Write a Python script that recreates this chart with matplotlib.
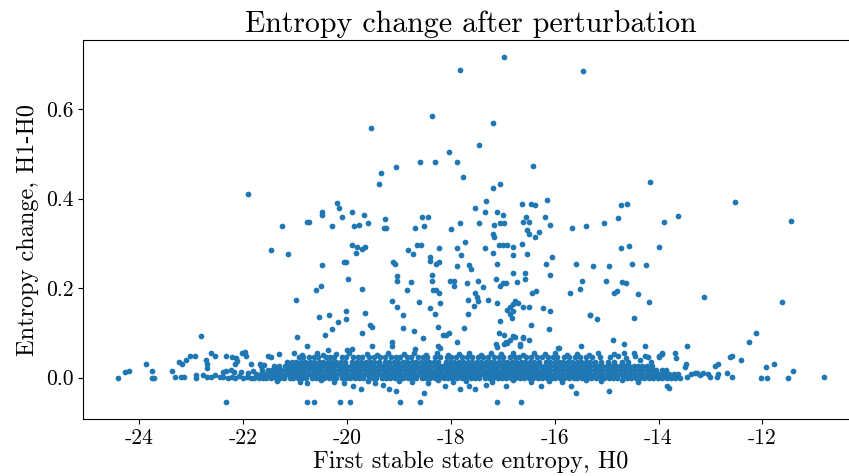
import matplotlib
matplotlib.use("Agg")
from matplotlib import pyplot as plt

# Computer Modern look, with plain hyphen for negative ticks
plt.rcParams["font.family"] = "cmr10"
plt.rcParams["axes.unicode_minus"] = False
plt.rcParams["mathtext.fontset"] = "cm"

# scattered points away from the dense band (H0, H1-H0)
outliers = [
    (-21.91, 0.410), (-21.25, 0.339), (-20.77, 0.348), (-20.72, 0.348), (-20.47, 0.370),
    (-20.47, 0.364), (-20.29, 0.339), (-20.19, 0.390), (-20.15, 0.380), (-20.10, 0.358),
    (-16.97, 0.716), (-17.82, 0.688), (-15.45, 0.685), (-18.36, 0.585), (-17.19, 0.569),
    (-19.54, 0.557), (-17.45, 0.520), (-18.04, 0.504), (-18.60, 0.482), (-18.30, 0.482),
    (-17.88, 0.482), (-19.05, 0.470), (-16.41, 0.473), (-17.77, 0.448), (-19.35, 0.457),
    (-19.38, 0.432), (-17.19, 0.423), (-17.05, 0.432), (-17.32, 0.394), (-17.53, 0.378),
    (-17.35, 0.370), (-17.10, 0.370), (-17.00, 0.364), (-16.62, 0.388), (-16.46, 0.388),
    (-16.38, 0.385), (-16.14, 0.398), (-16.19, 0.358), (-16.09, 0.342), (-16.56, 0.358),
    (-16.60, 0.348), (-16.49, 0.348), (-19.91, 0.370), (-19.67, 0.364), (-19.86, 0.339),
    (-19.77, 0.342), (-19.59, 0.345), (-19.27, 0.354), (-19.29, 0.335), (-19.24, 0.335),
    (-18.55, 0.358), (-18.44, 0.358), (-18.52, 0.339), (-17.82, 0.345), (-17.45, 0.345),
    (-17.16, 0.342), (-17.05, 0.345), (-16.97, 0.345), (-15.66, 0.335), (-15.40, 0.339),
    (-18.68, 0.335), (-18.00, 0.333),
    (-14.16, 0.438), (-12.53, 0.392), (-14.73, 0.385), (-14.61, 0.388), (-14.78, 0.357),
    (-13.63, 0.361), (-13.89, 0.348), (-15.05, 0.345), (-11.44, 0.351),
    (-21.47, 0.286), (-21.14, 0.276), (-20.47, 0.252), (-20.60, 0.196), (-20.50, 0.204),
    (-20.98, 0.174), (-20.53, 0.136), (-20.34, 0.139), (-20.17, 0.124), (-20.29, 0.108),
    (-20.42, 0.096), (-20.96, 0.090), (-20.77, 0.071), (-22.80, 0.0925),
    (-19.91, 0.296), (-19.81, 0.293), (-19.70, 0.288), (-19.66, 0.293), (-19.83, 0.279),
    (-20.05, 0.258), (-20.02, 0.258), (-19.97, 0.220), (-19.70, 0.199), (-20.02, 0.149),
    (-20.02, 0.130), (-19.65, 0.145), (-19.56, 0.117), (-19.51, 0.114), (-19.70, 0.099),
    (-19.51, 0.070), (-19.13, 0.171), (-19.03, 0.158), (-19.11, 0.258), (-19.08, 0.255),
    (-19.03, 0.227), (-19.03, 0.217), (-18.82, 0.285), (-18.73, 0.276), (-18.76, 0.214),
    (-18.84, 0.196), (-18.92, 0.139), (-18.92, 0.111), (-18.71, 0.105), (-18.62, 0.170),
    (-18.65, 0.296), (-18.57, 0.296), (-18.39, 0.270), (-18.39, 0.261), (-18.28, 0.255),
    (-18.23, 0.258), (-18.23, 0.289), (-18.36, 0.230), (-18.36, 0.217), (-18.34, 0.196),
    (-18.28, 0.196), (-18.23, 0.189), (-18.20, 0.167), (-18.39, 0.155), (-18.30, 0.143),
    (-18.25, 0.114), (-18.09, 0.096), (-18.04, 0.099), (-18.25, 0.070), (-18.20, 0.067),
    (-18.01, 0.217), (-17.93, 0.217), (-17.93, 0.204), (-17.88, 0.249), (-17.88, 0.289),
    (-17.80, 0.273), (-17.72, 0.302), (-17.69, 0.211), (-17.64, 0.251), (-17.61, 0.243),
    (-17.67, 0.173), (-17.55, 0.161), (-17.53, 0.189), (-17.50, 0.180), (-17.47, 0.171),
    (-17.47, 0.217), (-17.37, 0.202), (-17.88, 0.080), (-17.75, 0.111), (-17.66, 0.143),
    (-17.29, 0.173), (-17.35, 0.289), (-17.19, 0.320), (-17.16, 0.314), (-17.19, 0.279),
    (-17.11, 0.255), (-17.13, 0.220), (-17.05, 0.204), (-17.00, 0.211), (-16.94, 0.211),
    (-17.11, 0.167), (-17.05, 0.127), (-17.08, 0.296), (-17.00, 0.296), (-16.91, 0.296),
    (-16.81, 0.292), (-16.81, 0.273), (-16.81, 0.233), (-16.72, 0.214), (-16.57, 0.233),
    (-16.57, 0.220), (-16.62, 0.298), (-16.54, 0.276), (-16.54, 0.329), (-16.49, 0.320),
    (-16.38, 0.314), (-16.30, 0.326), (-16.92, 0.152), (-16.86, 0.158), (-16.81, 0.164),
    (-16.76, 0.171), (-16.70, 0.167), (-16.86, 0.143), (-16.83, 0.133), (-16.81, 0.149),
    (-16.60, 0.158), (-16.49, 0.158), (-16.46, 0.117), (-16.44, 0.190), (-16.35, 0.193),
    (-16.22, 0.155), (-16.09, 0.149), (-16.11, 0.108), (-16.16, 0.255), (-16.06, 0.270),
    (-16.09, 0.230), (-15.71, 0.189), (-15.58, 0.255), (-15.52, 0.199), (-15.47, 0.217),
    (-15.32, 0.139), (-15.50, 0.071), (-15.92, 0.067), (-16.97, 0.096), (-16.92, 0.077),
    (-16.86, 0.083), (-16.81, 0.092), (-16.76, 0.090), (-16.67, 0.070), (-16.60, 0.090),
    (-17.11, 0.069), (-19.14, 0.080), (-19.14, 0.070), (-18.68, 0.064), (-19.91, 0.064),
    (-14.73, 0.289), (-14.56, 0.295), (-14.00, 0.292), (-15.26, 0.249), (-14.96, 0.249),
    (-14.51, 0.255), (-14.24, 0.252), (-15.02, 0.217), (-14.70, 0.214), (-14.62, 0.211),
    (-14.85, 0.190), (-14.80, 0.193), (-14.40, 0.186), (-14.19, 0.170), (-13.12, 0.180),
    (-11.63, 0.170), (-15.31, 0.139), (-15.18, 0.130), (-14.48, 0.133), (-14.88, 0.083),
    (-14.67, 0.074), (-14.26, 0.071), (-13.46, 0.071), (-12.13, 0.099), (-12.26, 0.080),
    (-20.37, 0.061), (-19.99, 0.061), (-18.54, 0.089), (-18.14, 0.096), (-17.08, 0.099),
    (-16.93, 0.080), (-16.98, 0.074), (-16.60, 0.089), (-16.50, 0.083), (-16.66, 0.074),
    (-17.12, 0.074), (-15.93, 0.067),
]

# points below the band
negatives = [
    (-22.32, -0.054), (-20.76, -0.054), (-20.63, -0.054), (-20.14, -0.054), (-19.94, -0.054),
    (-18.98, -0.054), (-18.60, -0.054), (-17.11, -0.054), (-16.65, -0.054), (-20.76, -0.013),
    (-15.58, -0.035), (-19.73, -0.025), (-19.06, -0.029), (-18.52, -0.035), (-17.83, -0.025),
    (-17.64, -0.019), (-16.27, -0.019), (-16.94, -0.019), (-19.31, -0.016), (-19.18, -0.025),
    (-18.12, -0.019), (-17.33, -0.016), (-15.68, -0.019), (-14.96, -0.029), (-13.83, -0.019),
    (-13.80, -0.024), (-19.88, -0.019), (-20.06, -0.013), (-18.43, -0.013), (-17.53, -0.026),
    (-21.35, -0.007), (-20.90, -0.009), (-20.50, -0.006), (-20.25, -0.010), (-19.60, -0.008),
    (-19.45, -0.011), (-19.00, -0.007), (-18.75, -0.009), (-18.25, -0.006), (-17.95, -0.010),
    (-17.70, -0.007), (-17.20, -0.009), (-16.80, -0.006), (-16.45, -0.010), (-16.10, -0.007),
    (-15.85, -0.009), (-15.40, -0.006), (-15.10, -0.008), (-14.70, -0.006), (-14.40, -0.009),
]

# sparse ends of the band, left and right
tails = [
    (-24.40, 0.000), (-24.27, 0.012), (-24.19, 0.015), (-23.87, 0.031), (-23.76, 0.015),
    (-23.76, 0.000), (-23.71, 0.000), (-23.36, 0.015), (-23.31, 0.002), (-23.20, 0.002),
    (-23.13, 0.002), (-23.23, 0.034), (-23.18, 0.031), (-23.09, 0.040), (-23.02, 0.049),
    (-22.93, 0.049), (-22.91, 0.005), (-22.91, 0.000), (-22.72, 0.040), (-22.70, 0.031),
    (-22.70, 0.022), (-22.61, 0.055), (-22.54, 0.049), (-22.77, 0.005), (-22.70, 0.002),
    (-22.61, 0.002), (-22.54, 0.005), (-22.45, 0.002), (-22.32, 0.049), (-22.22, 0.046),
    (-22.16, 0.031), (-22.11, 0.037), (-22.02, 0.055), (-21.97, 0.058), (-21.94, 0.049),
    (-22.13, 0.043), (-22.38, 0.012), (-22.32, 0.015), (-22.24, 0.018), (-22.18, 0.012),
    (-21.84, 0.031), (-21.68, 0.031), (-21.60, 0.028), (-21.51, 0.049), (-21.46, 0.046),
    (-21.65, 0.027), (-22.38, 0.002), (-22.29, 0.000), (-22.22, 0.002), (-22.15, 0.000),
    (-22.07, 0.004), (-21.99, 0.000), (-21.92, 0.002), (-21.85, 0.000), (-22.04, 0.012),
    (-21.90, 0.010), (-21.80, 0.014),
    (-13.99, 0.049), (-13.93, 0.055), (-13.68, 0.055), (-13.67, 0.043), (-13.48, 0.030),
    (-13.49, 0.024), (-13.46, 0.002), (-13.38, 0.008), (-13.30, 0.011), (-13.25, 0.011),
    (-13.20, 0.005), (-13.15, 0.011), (-13.04, 0.008), (-13.01, 0.002), (-12.88, 0.002),
    (-12.85, 0.008), (-14.26, 0.049), (-14.21, 0.046), (-14.48, 0.055), (-14.46, 0.049),
    (-14.85, 0.052), (-14.78, 0.049), (-14.67, 0.055), (-13.94, 0.052), (-14.00, 0.046),
    (-12.63, 0.046), (-12.58, 0.049), (-12.42, 0.040), (-12.91, 0.027), (-12.85, 0.031),
    (-12.69, 0.011), (-12.58, 0.002), (-11.94, 0.024), (-11.78, 0.030), (-12.02, 0.000),
    (-11.91, 0.000), (-11.51, 0.000), (-11.41, 0.015), (-10.82, 0.002),
]

# dense band, read row by row (H0 values at roughly constant H1-H0)
band_a_y = 0.000
band_a_x = [
    -21.78, -21.70, -21.61, -21.55, -21.46, -21.36, -21.29, -21.21, -21.10, -21.03, -20.95,
    -20.86, -20.79, -20.68, -20.60, -20.53, -20.44, -20.35, -20.27, -20.20, -20.09, -20.01,
    -19.94, -19.85, -19.76, -19.69, -19.58, -19.50, -19.43, -19.33, -19.25, -19.17, -19.07,
    -19.00, -18.91, -18.82, -18.74, -18.66, -18.56, -18.48, -18.40, -18.30, -18.22, -18.13,
    -18.05, -17.97, -17.87, -17.79, -17.71, -17.61, -17.53, -17.45, -17.35, -17.27, -17.19,
    -17.09, -17.02, -16.93, -16.84, -16.76, -16.67, -16.58, -16.50, -16.42, -16.32, -16.24,
    -16.15, -16.06, -15.99, -15.90, -15.81, -15.73, -15.63, -15.56, -15.47, -15.38, -15.30,
    -15.21, -15.12, -15.05, -14.95, -14.87, -14.79, -14.69, -14.61, -14.53, -14.43, -14.36,
    -14.27, -14.18, -14.10, -14.01, -13.93, -13.84, -13.75, -13.68, -13.58,
]
band_b_y = 0.009
band_b_x = [
    -21.74, -21.65, -21.58, -21.49, -21.40, -21.33, -21.24, -21.15, -21.07, -20.99, -20.90,
    -20.82, -20.73, -20.64, -20.57, -20.48, -20.40, -20.31, -20.23, -20.14, -20.05, -19.97,
    -19.89, -19.80, -19.72, -19.63, -19.54, -19.46, -19.38, -19.29, -19.21, -19.12, -19.03,
    -18.95, -18.87, -18.78, -18.70, -18.61, -18.52, -18.44, -18.35, -18.26, -18.18, -18.09,
    -18.01, -17.92, -17.83, -17.75, -17.66, -17.57, -17.49, -17.40, -17.31, -17.23, -17.14,
    -17.06, -16.97, -16.88, -16.80, -16.71, -16.63, -16.54, -16.46, -16.37, -16.28, -16.20,
    -16.11, -16.02, -15.94, -15.85, -15.77, -15.68, -15.60, -15.51, -15.43, -15.34, -15.25,
    -15.17, -15.08, -15.00, -14.91, -14.83, -14.74, -14.65, -14.57, -14.48, -14.40, -14.31,
    -14.22, -14.14, -14.05, -13.97, -13.88, -13.80, -13.71, -13.63,
]
band_c_y = 0.018
band_c_x = [
    -21.63, -21.52, -21.44, -21.34, -21.26, -21.18, -21.08, -21.00, -20.92, -20.83, -20.75,
    -20.66, -20.58, -20.50, -20.41, -20.33, -20.24, -20.16, -20.07, -19.99, -19.91, -19.82,
    -19.74, -19.65, -19.57, -19.48, -19.40, -19.31, -19.23, -19.14, -19.06, -18.97, -18.89,
    -18.80, -18.72, -18.63, -18.55, -18.46, -18.38, -18.29, -18.21, -18.12, -18.04, -17.95,
    -17.87, -17.78, -17.70, -17.61, -17.53, -17.44, -17.36, -17.27, -17.19, -17.10, -17.02,
    -16.93, -16.85, -16.76, -16.68, -16.59, -16.51, -16.42, -16.34, -16.25, -16.17, -16.08,
    -16.00, -15.91, -15.83, -15.74, -15.66, -15.57, -15.49, -15.40, -15.32, -15.23, -15.15,
    -15.06, -14.98, -14.89, -14.81, -14.72, -14.64, -14.55, -14.47, -14.38, -14.30, -14.21,
    -14.13, -14.04, -13.94, -13.86,
]
band_d_y = 0.027
band_d_x = [
    -21.40, -21.31, -21.20, -21.12, -21.03, -20.94, -20.86, -20.77, -20.69, -20.60, -20.52,
    -20.43, -20.35, -20.26, -20.18, -20.09, -20.01, -19.92, -19.84, -19.75, -19.67, -19.58,
    -19.50, -19.41, -19.33, -19.24, -19.16, -19.07, -18.99, -18.90, -18.82, -18.73, -18.65,
    -18.56, -18.48, -18.39, -18.31, -18.22, -18.14, -18.05, -17.97, -17.88, -17.80, -17.71,
    -17.63, -17.54, -17.46, -17.37, -17.29, -17.20, -17.12, -17.03, -16.95, -16.86, -16.78,
    -16.69, -16.61, -16.52, -16.44, -16.35, -16.27, -16.18, -16.10, -16.01, -15.93, -15.84,
    -15.76, -15.67, -15.59, -15.50, -15.42, -15.33, -15.25, -15.16, -15.08, -14.99, -14.91,
    -14.82, -14.74, -14.65, -14.57, -14.48, -14.40, -14.31, -14.22, -14.12,
]
band_e_y = 0.036
band_e_x = [
    -21.15, -21.06, -20.97, -20.89, -20.80, -20.71, -20.63, -20.54, -20.46, -20.37, -20.29,
    -20.20, -20.12, -20.03, -19.90, -19.81, -19.73, -19.64, -19.56, -19.47, -19.39, -19.26,
    -19.18, -19.09, -19.01, -18.92, -18.84, -18.75, -18.67, -18.58, -18.50, -18.41, -18.33,
    -18.24, -18.10, -18.01, -17.93, -17.84, -17.76, -17.67, -17.59, -17.50, -17.42, -17.33,
    -17.25, -17.16, -17.08, -16.99, -16.91, -16.82, -16.74, -16.65, -16.57, -16.48, -16.40,
    -16.31, -16.17, -16.08, -16.00, -15.91, -15.83, -15.74, -15.66, -15.57, -15.49, -15.40,
    -15.32, -15.23, -15.10, -14.97, -14.85, -14.70, -14.58,
]
band_f_y = 0.045
band_f_x = [
    -20.93, -20.84, -20.72, -20.63, -20.55, -20.41, -20.32, -20.24, -20.10, -20.01, -19.88,
    -19.79, -19.70, -19.57, -19.48, -19.36, -19.27, -19.15, -19.06, -18.97, -18.85, -18.76,
    -18.63, -18.54, -18.45, -18.30, -18.21, -18.08, -17.99, -17.90, -17.78, -17.69, -17.60,
    -17.47, -17.38, -17.29, -17.17, -17.08, -16.99, -16.86, -16.77, -16.68, -16.55, -16.46,
    -16.34, -16.25, -16.13, -16.04, -15.95, -15.82, -15.73, -15.61, -15.52, -15.40, -15.28,
    -15.13,
]
# ragged top edge of the band
band_top = [
    (-21.30, 0.052), (-21.02, 0.055), (-20.86, 0.051), (-20.58, 0.054), (-20.45, 0.050),
    (-20.20, 0.053), (-19.95, 0.055), (-19.61, 0.052), (-19.42, 0.050), (-19.20, 0.056),
    (-18.90, 0.052), (-18.70, 0.054), (-18.48, 0.051), (-18.26, 0.055), (-18.05, 0.050),
    (-17.84, 0.053), (-17.64, 0.056), (-17.42, 0.051), (-17.22, 0.054), (-17.03, 0.052),
    (-16.80, 0.055), (-16.60, 0.050), (-16.40, 0.054), (-16.18, 0.052), (-15.99, 0.055),
    (-15.77, 0.051), (-15.56, 0.053), (-15.34, 0.050), (-15.17, 0.055), (-14.93, 0.047),
    (-14.63, 0.043), (-14.35, 0.040), (-14.15, 0.036),
]

# collect everything into two flat lists
h0 = []
dh = []
for pts in (outliers, negatives, tails, band_top):
    for x, y in pts:
        h0.append(x)
        dh.append(y)
for xs, y in ((band_a_x, band_a_y), (band_b_x, band_b_y), (band_c_x, band_c_y),
              (band_d_x, band_d_y), (band_e_x, band_e_y), (band_f_x, band_f_y)):
    for x in xs:
        h0.append(x)
        dh.append(y)

fig = plt.figure(figsize=(8.49, 4.76), dpi=100)
# the right spine sits just past the image edge, as in the reference
ax = fig.add_axes([83 / 849, 57 / 476, 776 / 849, 379 / 476])

ax.scatter(h0, dh, s=17, color="#1f77b4", linewidths=0)

ax.set_xlim(-25.08, -10.14)
ax.set_ylim(-0.0925, 0.7545)
ax.set_xticks([-24, -22, -20, -18, -16, -14, -12])
ax.set_yticks([0.0, 0.2, 0.4, 0.6])
ax.tick_params(labelsize=15.5)

ax.set_title("Entropy change after perturbation", fontsize=21.5)
ax.set_xlabel("First stable state entropy, H0", fontsize=17.5, labelpad=2)
ax.set_ylabel("Entropy change, H1-H0", fontsize=17.5, labelpad=5)

fig.savefig("out.png", dpi=100)
